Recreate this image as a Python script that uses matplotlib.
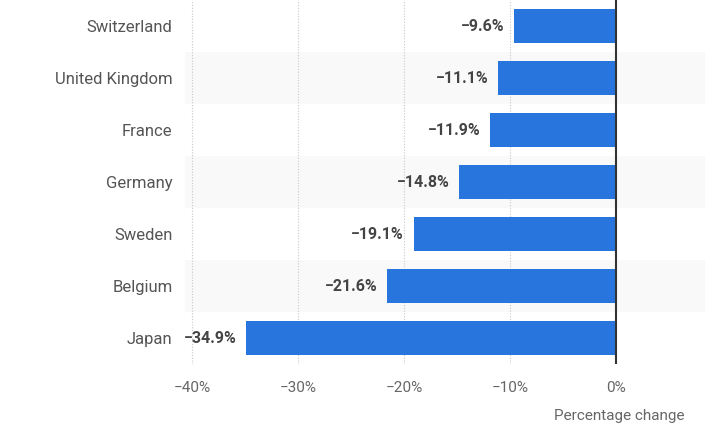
import matplotlib.pyplot as plt
import numpy as np

plt.rcParams['font.family'] = ['Liberation Sans Narrow', 'Roboto', 'DejaVu Sans']

countries = ["Switzerland", "United Kingdom", "France", "Germany", "Sweden", "Belgium", "Japan"]
changes = [-9.6, -11.1, -11.9, -14.8, -19.1, -21.6, -34.9]
xticks = [-40, -30, -20, -10, 0]
xtick_labels = ["\u221240%", "\u221230%", "\u221220%", "\u221210%", "0%"]

fig = plt.figure(figsize=(7.05, 4.45), dpi=100)
ax = fig.add_axes([185 / 705, 1 - 364 / 445, 520 / 705, 364 / 445])

y = np.arange(len(countries))
# alternating row bands
for i in y:
    if i % 2 == 1:
        ax.axhspan(i - 0.5, i + 0.5, color="#f9f9f9", zorder=0, lw=0)

for xt in xticks[:-1]:
    ax.axvline(xt, color="#c8c8c8", lw=0.8, ls=(0, (1, 1.5)), zorder=1)

ax.barh(y, changes, height=0.67, color="#2876dd", zorder=2)
ax.axvline(0, color="#333333", lw=1.5, zorder=3)

for i, v in zip(y, changes):
    ax.text(v - 0.9, i, "\u2212%.1f%%" % abs(v), ha="right", va="center",
            fontsize=11.5, fontweight="semibold", color="#444444", zorder=4)

ax.set_xlim(-40.66, 8.4)
ax.set_ylim(len(countries) - 0.5, -0.5)
ax.set_yticks(y)
ax.set_yticklabels(countries, fontsize=12, color="#555555")
ax.set_xticks(xticks)
ax.set_xticklabels(xtick_labels, fontsize=11, color="#666666")
ax.tick_params(axis="y", length=0, pad=9)
ax.tick_params(axis="x", length=0, pad=12)
for s in ax.spines.values():
    s.set_visible(False)

fig.text(685 / 705, 1 - 416 / 445, "Percentage change", ha="right", va="center",
         fontsize=11, color="#666666")

fig.savefig("out.png", dpi=100)
